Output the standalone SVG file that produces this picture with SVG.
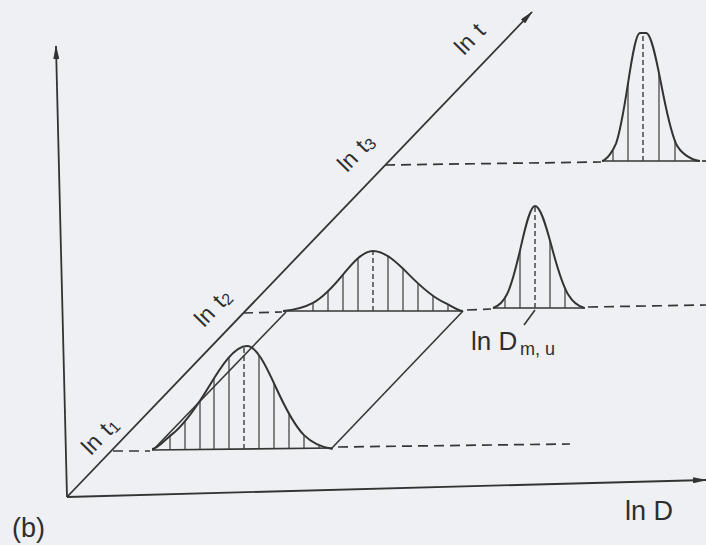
<svg xmlns="http://www.w3.org/2000/svg" width="706" height="545" viewBox="0 0 706 545">
<defs>
<marker id="arr" viewBox="0 0 14 6" refX="13" refY="3" markerWidth="14" markerHeight="6" markerUnits="userSpaceOnUse" orient="auto"><path d="M0,0 L14,3 L0,6 z" fill="#333"/></marker>
<style>
.ax{stroke:#333;stroke-width:1.8;fill:none}
.ln{stroke:#363636;stroke-width:1.6;fill:none}
.crv{stroke:#333;stroke-width:2;fill:none}
.h{stroke:#3a3a3a;stroke-width:1.2}
.cd{stroke:#3a3a3a;stroke-width:1.4;stroke-dasharray:5 3}
.dash{stroke:#363636;stroke-width:1.7;stroke-dasharray:10 6;fill:none}
text{font-family:"Liberation Sans",Arial,sans-serif;fill:#2e2e2e}
.dl{font-size:23px;word-spacing:2px}
</style>
</defs>
<rect width="706" height="545" fill="#eff0f3"/>

<g id="connectors">
<line id="y-axis" class="ax" x1="67" y1="497" x2="56" y2="46" marker-end="url(#arr)"/>
<line id="x-axis" class="ax" x1="67" y1="497" x2="706" y2="480" marker-end="url(#arr)"/>
<line id="t-axis" class="ax" x1="67" y1="497" x2="532" y2="12" marker-end="url(#arr)"/>
<line class="ln" x1="153" y1="450" x2="286" y2="312"/>
<line class="ln" x1="332" y1="448" x2="463" y2="311"/>
<line class="dash" x1="113" y1="451" x2="150" y2="451"/>
<line class="dash" x1="338" y1="447" x2="570" y2="444"/>
<line class="dash" x1="243" y1="313" x2="282" y2="312"/>
<line class="dash" x1="467" y1="310" x2="491" y2="309"/>
<line class="dash" x1="588" y1="307" x2="706" y2="305"/>
<line class="dash" x1="385" y1="165" x2="601" y2="162"/>
<line class="dash" x1="702" y1="161" x2="706" y2="161"/>
<line class="ln" x1="535" y1="310" x2="524" y2="325" stroke-width="1.1"/>
</g>

<g id="dist-t1">
<line class="ln" x1="152" y1="450" x2="333" y2="448"/>
<path class="crv" d="M152,449 C157.7,449 164.7,439.7 171,435.1 C183.7,425.7 196.3,407.4 209,386.5 C221.7,365.7 234.3,346 247,346 C256.5,346 266,365.7 275.5,386.5 C285,407.4 294.5,425.7 304,435.1 C313.5,444.4 323,447.5 332.5,449"/>
<g class="h">
<line x1="170" y1="449" x2="170" y2="436"/>
<line x1="185" y1="449" x2="185" y2="422"/>
<line x1="200" y1="449" x2="200" y2="401"/>
<line x1="214" y1="449" x2="214" y2="378"/>
<line x1="229" y1="449" x2="229" y2="357"/>
<line x1="259" y1="449" x2="259" y2="355"/>
<line x1="274" y1="449" x2="274" y2="383"/>
<line x1="289" y1="449" x2="289" y2="414"/>
<line x1="304" y1="449" x2="304" y2="435"/>
<line x1="319" y1="449" x2="319" y2="445"/>
</g>
<line class="cd" x1="244" y1="449" x2="244" y2="347"/>
</g>

<g id="dist-t2">
<line class="ln" x1="283" y1="311" x2="463" y2="311"/>
<path class="crv" d="M283,311 C293,310.1 303,308.3 313,302.9 C323,297.4 333,286.8 343,274.6 C353,262.5 363,251 373,251 C385,251 397,262.5 409,274.6 C421,286.8 433,297.4 445,302.9 C451,305.6 457.6,311 463,311"/>
<g class="h">
<line x1="313" y1="311" x2="313" y2="303"/>
<line x1="328" y1="311" x2="328" y2="291"/>
<line x1="343" y1="311" x2="343" y2="275"/>
<line x1="358" y1="311" x2="358" y2="258"/>
<line x1="388" y1="311" x2="388" y2="256"/>
<line x1="403" y1="311" x2="403" y2="269"/>
<line x1="418" y1="311" x2="418" y2="284"/>
<line x1="433" y1="311" x2="433" y2="296"/>
<line x1="448" y1="311" x2="448" y2="304"/>
</g>
<line class="cd" x1="373" y1="311" x2="373" y2="252"/>
</g>

<g id="dist-t2-narrow">
<line class="ln" x1="493" y1="308" x2="585" y2="308"/>
<path class="crv" d="M493,308 C497.7,306.5 502.3,303.4 507,294.2 C511.7,284.9 516.3,266.8 521,246.1 C525.7,225.5 530.3,206 535,206 C540.5,206 546,225.5 551.5,246.1 C557,266.8 562.5,284.9 568,294.2 C573.5,303.4 579,306.5 584.5,308"/>
<g class="h">
<line x1="505" y1="308" x2="505" y2="298"/>
<line x1="520" y1="308" x2="520" y2="251"/>
<line x1="550" y1="308" x2="550" y2="241"/>
<line x1="565" y1="308" x2="565" y2="289"/>
</g>
<line class="cd" x1="535" y1="308" x2="535" y2="207"/>
</g>

<g id="dist-t3">
<line class="ln" x1="602" y1="161" x2="700" y2="161"/>
<path class="crv" d="M602,161 C607,159.5 613,151 616,143.7 C620,132.1 624,109.3 628,83.3 C632,57.4 636,33 640,33 L646,33 C651,33 656,57.4 661,83.3 C666,109.3 671,132.1 676,143.7 C680,152 690,160 700,161"/>
<g class="h">
<line x1="613" y1="161" x2="613" y2="151"/>
<line x1="628" y1="161" x2="628" y2="84"/>
<line x1="659" y1="161" x2="659" y2="74"/>
<line x1="675" y1="161" x2="675" y2="141"/>
</g>
<line class="cd" x1="643" y1="161" x2="643" y2="34"/>
</g>

<g id="labels">
<text class="dl" transform="translate(464,56) rotate(-46)">ln t</text>
<text class="dl" transform="translate(347,173) rotate(-46)">ln t<tspan font-size="16" dy="2">3</tspan></text>
<text class="dl" transform="translate(204,328) rotate(-46)">ln t<tspan font-size="16" dy="2">2</tspan></text>
<text class="dl" transform="translate(91,456) rotate(-46)">ln t<tspan font-size="16" dy="2">1</tspan></text>
<text x="471" y="350" font-size="26">ln D</text>
<text x="520" y="355" font-size="18">m, u</text>
<text x="625" y="520" font-size="27">ln D</text>
<text x="12" y="537" font-size="27">(b)</text>
</g>
</svg>
